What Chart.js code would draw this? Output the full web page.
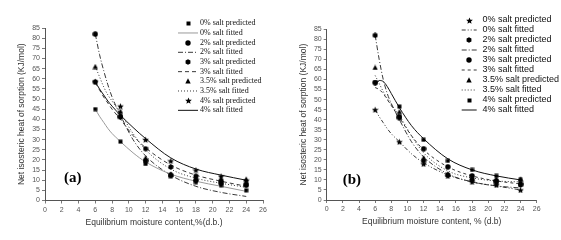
<!DOCTYPE html>
<html>
<head>
<meta charset="utf-8">
<script src="https://cdn.jsdelivr.net/npm/chart.js@4.4.1/dist/chart.umd.min.js"></script>
<style>
  body { margin: 0; background: #fff; width: 561px; height: 240px; overflow: hidden; position: relative; }
  canvas { position: absolute; top: 0; }
  #chartA { left: 0; }
  #chartB { left: 280px; }
</style>
</head>
<body>
<canvas id="chartA" width="280" height="240"></canvas>
<canvas id="chartB" width="281" height="240"></canvas>
<script>
// measured points (same in both panels)
const moisture = [6, 9, 12, 15, 18, 21, 24];
const pred0  = [45, 29, 18, 12, 9, 7.5, 5];
const pred2  = [82, 41.5, 19.5, 12.5, 10, 8.5, 7.5];
const pred3  = [58.5, 41, 25.5, 16.5, 12, 9.5, 8];
const pred35 = [66, 44, 21, 13, 11, 10.5, 10.5];
const pred4  = [58.5, 46.5, 30, 19.5, 15, 12, 10];

// fitted curves
const fitX  = [6, 6.5, 7, 7.5, 8, 9, 10.5, 12, 15, 18, 21, 24];
const fit0a  = [45, 41.5, 38.5, 35.5, 33, 29, 23.5, 19, 13, 9.5, 7, 4.5];
const fit2a  = [82, 72, 64, 57, 51, 42, 30, 22, 12.5, 7, 4, 2];
const fit3a  = [58, 54.5, 51, 48, 45, 40, 32, 26, 17.5, 12.5, 9.5, 7];
const fit35a = [66, 61, 56, 52, 49, 43, 33, 25, 15.5, 11, 8.5, 6.5];
const fit4a  = [58.5, 55, 52, 49, 46.5, 42, 36, 30.5, 21, 15.5, 12.5, 10];

const fit0b  = [45, 41.5, 38.5, 35.5, 33, 29, 23, 18.5, 12.5, 9, 7, 5];
const fit2b  = [82, 70, 60, 53, 48, 40, 29, 21.5, 13, 9, 7, 6];
const fit3b  = [56, 55, 53, 50, 47, 41, 32, 25, 16.5, 12, 9.5, 8];
const fit35b = [62, 58, 54, 50.5, 47.5, 42, 32, 23.5, 14.5, 11, 9.5, 9];
const fit4b  = [57, 59.5, 59, 56.5, 53, 46, 37, 30.5, 20.5, 15, 12, 10];

const saltLabels = ['0%', '2%', '3%', '3.5%', '4%'];
const preds = [pred0, pred2, pred3, pred35, pred4];

// little filled marker images
function mark(kind, s) {
  const c = document.createElement('canvas');
  c.width = c.height = s;
  const g = c.getContext('2d');
  const h = s / 2;
  g.fillStyle = '#000';
  g.beginPath();
  if (kind === 'square') {
    g.rect(0.5, 0.5, s - 1, s - 1);
  } else if (kind === 'circle') {
    g.arc(h, h, h - 0.3, 0, Math.PI * 2);
  } else if (kind === 'triangle') {
    g.moveTo(h, 0.3); g.lineTo(s - 0.3, s - 0.5); g.lineTo(0.3, s - 0.5);
  } else if (kind === 'hex') {
    for (let k = 0; k < 6; k++) {
      const a = Math.PI / 2 + k * Math.PI / 3;
      g.lineTo(h + (h - 0.2) * Math.cos(a), h - (h - 0.2) * Math.sin(a));
    }
  } else if (kind === 'star') {
    for (let k = 0; k < 10; k++) {
      const r = k % 2 ? h * 0.45 : h;
      const a = Math.PI / 2 + k * Math.PI / 5;
      g.lineTo(h + r * Math.cos(a), h - r * Math.sin(a) + 0.4);
    }
  }
  g.closePath();
  g.fill();
  return c;
}

const keyPlugin = {
  id: 'sideKey',
  afterDatasetsDraw(chart, args, o) {
    const ctx = chart.ctx;
    ctx.save();
    ctx.font = o.font;
    ctx.fillStyle = '#111';
    ctx.textBaseline = 'middle';
    chart.data.datasets.forEach((ds, i) => {
      const y = o.top + i * o.step;
      if (ds.showLine) {
        ctx.beginPath();
        ctx.setLineDash(ds.borderDash || []);
        ctx.strokeStyle = ds.borderColor;
        ctx.lineWidth = ds.borderWidth;
        ctx.moveTo(o.lineFrom, y);
        ctx.lineTo(o.lineTo, y);
        ctx.stroke();
        ctx.setLineDash([]);
      } else {
        const img = ds.pointStyle;
        ctx.drawImage(img, Math.round(o.markX - img.width / 2), Math.round(y - img.height / 2));
      }
      ctx.fillText(ds.label, o.textX, y);
    });
    ctx.font = 'bold 15px "Liberation Serif"';
    ctx.fillStyle = '#000';
    ctx.fillText(o.tag, o.tagX, o.tagY);
    ctx.restore();
  }
};

function buildSets(marks, fits, lines) {
  const sets = [];
  preds.forEach((p, i) => {
    sets.push({
      label: saltLabels[i] + ' salt predicted',
      data: moisture.map((x, k) => ({x: x, y: p[k]})),
      pointStyle: marks[i], pointRadius: 3, showLine: false, order: 0
    });
    sets.push({
      label: saltLabels[i] + ' salt fitted',
      data: fitX.map((x, k) => ({x: x, y: fits[i][k]})),
      showLine: true, pointRadius: 0, fill: false, order: 1,
      borderColor: lines[i].color, borderWidth: lines[i].width, borderDash: lines[i].dash,
      cubicInterpolationMode: 'monotone'
    });
  });
  return sets;
}

function makeChart(id, sets, geo, xTitle, key) {
  return new Chart(document.getElementById(id), {
    type: 'scatter',
    data: {datasets: sets},
    options: {
      responsive: false,
      animation: false,
      layout: {padding: {left: 0, top: geo.top, right: geo.right, bottom: 0}},
      plugins: {legend: {display: false}, tooltip: {enabled: false}, sideKey: key},
      scales: {
        x: {
          type: 'linear', min: 0, max: 26,
          afterFit: s => { s.height = geo.xHeight; },
          ticks: {stepSize: 2, autoSkip: false, font: {size: 7}, color: '#555', padding: 2, maxRotation: 0},
          grid: {drawOnChartArea: false, tickLength: 3, color: '#555', lineWidth: 0.8},
          border: {color: '#555', width: 1},
          title: {display: true, text: xTitle, font: {size: 8.5}, color: '#333', padding: {top: 0, bottom: geo.xTitlePad}}
        },
        y: {
          type: 'linear', min: 0, max: 85,
          afterFit: s => { s.width = geo.yWidth; },
          ticks: {stepSize: 5, autoSkip: false, font: {size: 7}, color: '#555', padding: 2},
          grid: {drawOnChartArea: false, tickLength: 3, color: '#555', lineWidth: 0.8},
          border: {color: '#555', width: 1},
          title: {display: true, text: 'Net isosteric heat of sorption (KJ/mol)', font: {size: 8.5}, color: '#333', padding: {top: geo.yTitlePad, bottom: 0}}
        }
      }
    },
    plugins: [keyPlugin]
  });
}

Chart.defaults.font.family = '"Liberation Sans", Arial, sans-serif';

const linesA = [
  {color: '#9a9a9a', width: 1, dash: []},
  {color: '#222', width: 0.9, dash: [5, 2, 1, 2]},
  {color: '#222', width: 0.9, dash: [4, 3]},
  {color: '#222', width: 0.9, dash: [1, 2]},
  {color: '#111', width: 1, dash: []}
];
const linesB = [
  {color: '#222', width: 0.9, dash: [4, 2, 1, 2, 1, 2]},
  {color: '#222', width: 0.9, dash: [5, 2, 1, 2]},
  {color: '#222', width: 0.9, dash: [3, 3]},
  {color: '#222', width: 0.9, dash: [1, 2]},
  {color: '#111', width: 1, dash: []}
];

const marksA = [mark('square', 5), mark('circle', 6), mark('hex', 6), mark('triangle', 6), mark('star', 7)];
const marksB = [mark('star', 7), mark('hex', 6), mark('circle', 6), mark('triangle', 6), mark('square', 5)];

makeChart('chartA',
  buildSets(marksA, [fit0a, fit2a, fit3a, fit35a, fit4a], linesA),
  {top: 28, right: 17, xHeight: 39.5, yWidth: 45, xTitlePad: 12, yTitlePad: 17},
  'Equilibrium moisture content,%(d.b.)',
  {font: '8px "Liberation Serif"', top: 23.3, step: 9.67, markX: 188, lineFrom: 178, lineTo: 198, textX: 200, tag: '(a)', tagX: 64, tagY: 178});

makeChart('chartB',
  buildSets(marksB, [fit0b, fit2b, fit3b, fit35b, fit4b], linesB),
  {top: 29.3, right: 24.3, xHeight: 40, yWidth: 46.7, xTitlePad: 13, yTitlePad: 19},
  'Equilibrium moisture content, % (d.b)',
  {font: '9px "Liberation Sans"', top: 20, step: 10, markX: 189, lineFrom: 181.7, lineTo: 196.7, textX: 202.5, tag: '(b)', tagX: 62.7, tagY: 180});
</script>
</body>
</html>
